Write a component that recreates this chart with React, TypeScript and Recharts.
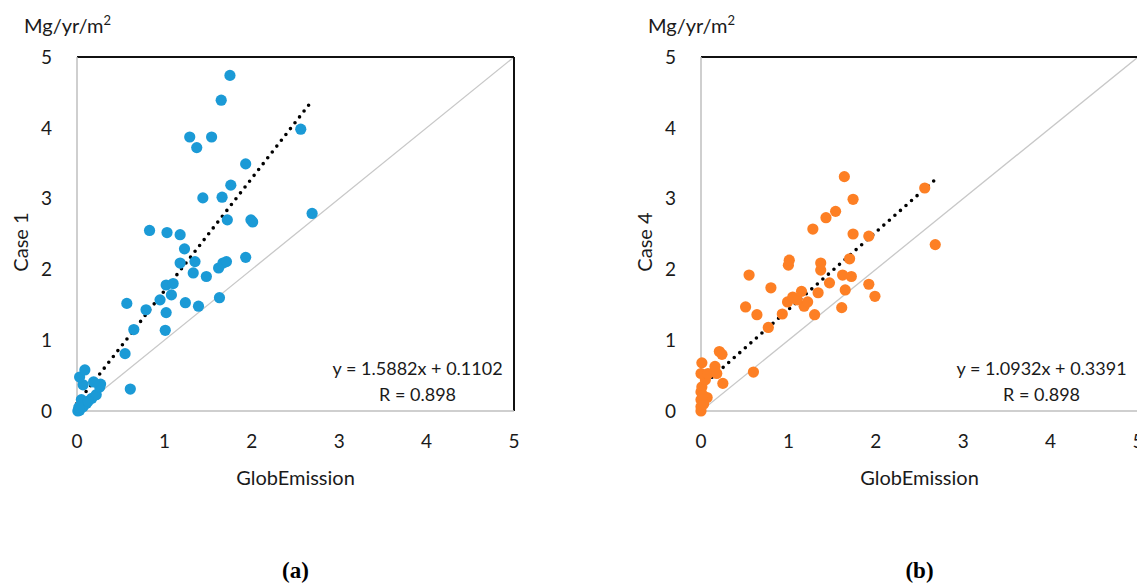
import React from "react";
import { ScatterChart, Scatter, XAxis, YAxis, ReferenceLine } from "recharts";

// panel (a): GlobEmission vs Case 1
const globA = [
  0.01, 0.03, 0.07, 0.11, 0.05, 0.17, 0.22, 0.26, 0.27, 0.19, 0.07, 0.03, 0.09, 0.02, 0.13,
  0.61, 0.55, 0.65, 1.01, 0.79, 1.02, 0.57, 0.95, 1.08, 1.02, 1.1, 1.24, 1.39, 1.63, 1.33,
  1.48, 1.62, 1.67, 1.71, 1.93, 1.18, 1.35, 1.23, 0.83, 1.03, 1.18, 1.72, 1.99, 2.01, 2.69,
  1.44, 1.66, 1.76, 1.93, 1.29, 1.37, 1.54, 2.56, 1.65, 1.75,
];
const case1 = [
  0.0, 0.01, 0.06, 0.11, 0.16, 0.18, 0.23, 0.34, 0.38, 0.41, 0.37, 0.48, 0.58, 0.05, 0.14,
  0.31, 0.81, 1.15, 1.14, 1.43, 1.39, 1.52, 1.57, 1.64, 1.78, 1.8, 1.53, 1.48, 1.6, 1.95,
  1.9, 2.02, 2.09, 2.11, 2.17, 2.09, 2.11, 2.29, 2.55, 2.52, 2.49, 2.7, 2.7, 2.67, 2.79,
  3.01, 3.02, 3.19, 3.49, 3.87, 3.72, 3.87, 3.98, 4.39, 4.74,
];

// panel (b): GlobEmission vs Case 4
const globB = [
  0.0, 0.0, 0.0, 0.07, 0.0, 0.01, 0.25, 0.05, 0.0, 0.08, 0.18, 0.16, 0.01, 0.21, 0.24, 0.6,
  0.03, 0.02, 0.77, 0.64, 0.93, 1.3, 0.51, 1.61, 1.18, 0.99, 1.22, 1.1, 1.05, 1.99, 1.34,
  1.15, 1.65, 0.8, 1.92, 1.47, 1.62, 1.72, 0.55, 1.37, 1.0, 1.37, 1.01, 1.7, 2.68, 1.92,
  1.74, 1.28, 1.43, 1.54, 1.74, 2.56, 1.64,
];
const case4 = [
  0.0, 0.06, 0.16, 0.19, 0.27, 0.34, 0.39, 0.44, 0.53, 0.53, 0.53, 0.63, 0.68, 0.84, 0.8, 0.55,
  0.1, 0.22, 1.18, 1.36, 1.37, 1.36, 1.47, 1.46, 1.48, 1.54, 1.54, 1.57, 1.61, 1.62, 1.67,
  1.69, 1.71, 1.74, 1.79, 1.81, 1.92, 1.9, 1.92, 1.99, 2.06, 2.09, 2.13, 2.15, 2.35, 2.47,
  2.5, 2.57, 2.73, 2.82, 2.99, 3.15, 3.31,
];

const axisTicks = [0, 1, 2, 3, 4, 5];
const fitA = { slope: 1.5882, intercept: 0.1102, r: 0.898, xEnd: 2.7 };
const fitB = { slope: 1.0932, intercept: 0.3391, r: 0.898, xEnd: 2.68 };

const FONT = "Lato, 'Open Sans', sans-serif";
const TEXT = "#1a1a1a";

type Fit = { slope: number; intercept: number; r: number; xEnd: number };

function Panel({
  left, xs, ys, color, fit, yLabel, tag,
}: {
  left: number; xs: number[]; ys: number[]; color: string; fit: Fit; yLabel: string; tag: string;
}) {
  const data = xs.map((x, i) => ({ x, y: ys[i] }));
  const W = 540;
  const axisW = 77;
  const plotL = left + axisW;
  const plotR = left + W - 26;
  const eqX = plotL + (plotR - plotL) * 0.8 - 9;
  const tickStyle = { fontSize: 19, fill: TEXT, fontFamily: FONT };
  return (
    <>
      <div style={{ position: "absolute", left, top: 0 }}>
        <ScatterChart width={W} height={500} margin={{ top: 57, right: 26, left: 0, bottom: 39 }}>
          <XAxis
            type="number" dataKey="x" domain={[0, 5]} ticks={axisTicks} height={50}
            tickLine={false} tickSize={0} tickMargin={24} tick={tickStyle}
            axisLine={{ stroke: "#bfbfbf", strokeWidth: 1.5 }}
          />
          <YAxis
            type="number" dataKey="y" domain={[0, 5]} ticks={axisTicks} width={axisW}
            tickLine={false} tickSize={0} tickMargin={25} tick={tickStyle}
            axisLine={{ stroke: "#bfbfbf", strokeWidth: 1.5 }}
          />
          <ReferenceLine segment={[{ x: 0, y: 0 }, { x: 5, y: 5 }]} stroke="#c8c8c8" strokeWidth={1.3} />
          <ReferenceLine y={5} stroke="#111" strokeWidth={2} />
          <ReferenceLine x={5} stroke="#111" strokeWidth={2} />
          <Scatter
            data={data} isAnimationActive={false}
            shape={(p: any) => <circle cx={p.cx} cy={p.cy} r={5.6} fill={color} />}
          />
          <ReferenceLine
            segment={[
              { x: 0, y: fit.intercept },
              { x: fit.xEnd, y: fit.slope * fit.xEnd + fit.intercept },
            ]}
            stroke="#000" strokeWidth={3.6} strokeDasharray="0 7.4" strokeLinecap="round"
          />
        </ScatterChart>
      </div>
      <div style={{ position: "absolute", left: left + 24, top: 12, fontSize: 20, fontFamily: FONT, color: TEXT }}>
        Mg/yr/m<sup style={{ fontSize: 13 }}>2</sup>
      </div>
      <div
        style={{
          position: "absolute", left: left + 20 - 60, top: 242 - 13, width: 120, height: 26,
          textAlign: "center", transform: "rotate(-90deg)", fontSize: 20, fontFamily: FONT, color: TEXT,
          lineHeight: "26px",
        }}
      >
        {yLabel}
      </div>
      <div
        style={{
          position: "absolute", left: (plotL + plotR) / 2 - 100, top: 465, width: 200,
          textAlign: "center", fontSize: 20, fontFamily: FONT, color: TEXT,
        }}
      >
        GlobEmission
      </div>
      <div
        style={{
          position: "absolute", left: eqX - 120, top: 355, width: 240, textAlign: "center",
          fontSize: 18, lineHeight: "26px", fontFamily: FONT, color: TEXT,
        }}
      >
        <div>{`y = ${fit.slope.toFixed(4)}x + ${fit.intercept.toFixed(4)}`}</div>
        <div>{`R = ${fit.r.toFixed(3)}`}</div>
      </div>
      <div
        style={{
          position: "absolute", left: (plotL + plotR) / 2 - 50, top: 558, width: 100, textAlign: "center",
          fontSize: 23, fontWeight: "bold", fontFamily: "'Liberation Serif', serif", color: "#000",
        }}
      >
        ({tag})
      </div>
    </>
  );
}

export default function App() {
  return (
    <div
      style={{
        position: "absolute", left: 0, top: 0, width: 1137, height: 583, overflow: "hidden",
        background: "#fff",
      }}
    >
      <Panel left={0} xs={globA} ys={case1} color="#1b9ad6" fit={fitA} yLabel="Case 1" tag="a" />
      <Panel left={624} xs={globB} ys={case4} color="#fd7f24" fit={fitB} yLabel="Case 4" tag="b" />
    </div>
  );
}
